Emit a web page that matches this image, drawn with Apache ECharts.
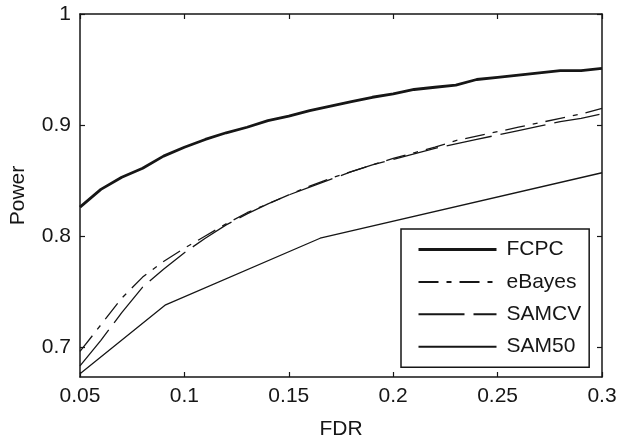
<!DOCTYPE html>
<html>
<head>
<meta charset="utf-8">
<script src="https://cdn.jsdelivr.net/npm/echarts@6/dist/echarts.min.js"></script>
<style>
  html, body { margin: 0; padding: 0; background: #fff; }
  #chart { width: 624px; height: 445px; }
</style>
</head>
<body>
<div id="chart"></div>
<script>
// FDR grid shared by the three smooth curves
const fdr = [0.05, 0.06, 0.07, 0.08, 0.09, 0.1, 0.11, 0.12, 0.13, 0.14, 0.15, 0.16, 0.17,
  0.18, 0.19, 0.2, 0.21, 0.22, 0.23, 0.24, 0.25, 0.26, 0.27, 0.28, 0.29, 0.3]
const fcpc = [0.826, 0.842, 0.853, 0.861, 0.872, 0.880, 0.887, 0.893, 0.898, 0.904, 0.908, 0.913, 0.917,
  0.921, 0.925, 0.928, 0.932, 0.934, 0.936, 0.941, 0.943, 0.945, 0.947, 0.949, 0.949, 0.951]
const ebayes = [0.696, 0.720, 0.744, 0.763, 0.777, 0.789, 0.800, 0.811, 0.821, 0.829, 0.837, 0.845, 0.852,
  0.858, 0.864, 0.870, 0.875, 0.880, 0.886, 0.890, 0.894, 0.898, 0.902, 0.906, 0.910, 0.915]
const samcv = [0.683, 0.706, 0.731, 0.754, 0.770, 0.785, 0.798, 0.810, 0.820, 0.829, 0.837, 0.844, 0.851,
  0.858, 0.864, 0.869, 0.874, 0.879, 0.883, 0.887, 0.891, 0.895, 0.899, 0.903, 0.906, 0.910]
// SAM50 has only a few points
const sam50Fdr = [0.05, 0.091, 0.165, 0.3]
const sam50 = [0.676, 0.738, 0.798, 0.857]

const xTicks = [0.05, 0.1, 0.15, 0.2, 0.25, 0.3]
const yTicks = [0.7, 0.8, 0.9, 1]

const pairs = (xs, ys) => xs.map((x, i) => [x, ys[i]])

const ink = '#161616'
const font = 'Liberation Sans, Arial, Helvetica, sans-serif'

const chart = echarts.init(document.getElementById('chart'))

const baseX = {
  type: 'value',
  min: 0.05,
  max: 0.3,
  axisLine: { show: true, onZero: false, lineStyle: { color: ink, width: 1.5 } },
  axisTick: { show: true, inside: true, length: 5, customValues: xTicks, lineStyle: { color: ink, width: 1.2 } },
  splitLine: { show: false }
}
const baseY = {
  type: 'value',
  min: 0.673,
  max: 1,
  axisLine: { show: true, onZero: false, lineStyle: { color: ink, width: 1.5 } },
  axisTick: { show: true, inside: true, length: 5, customValues: yTicks, lineStyle: { color: ink, width: 1.2 } },
  splitLine: { show: false }
}

chart.setOption({
  animation: false,
  backgroundColor: '#fff',
  grid: { left: 76, right: 22, top: 14, bottom: 67 },
  xAxis: [
    {
      ...baseX,
      position: 'bottom',
      name: 'FDR',
      nameLocation: 'middle',
      nameGap: 42,
      nameTextStyle: { color: ink, fontSize: 21, fontFamily: font },
      axisLabel: {
        show: true, margin: 9, color: ink, fontSize: 21, fontFamily: font,
        customValues: xTicks,
        formatter: (v) => String(+v.toFixed(2))
      }
    },
    { ...baseX, position: 'top', axisLabel: { show: false } }
  ],
  yAxis: [
    {
      ...baseY,
      position: 'left',
      name: 'Power',
      nameLocation: 'middle',
      nameGap: 51,
      nameTextStyle: { color: ink, fontSize: 21, fontFamily: font },
      axisLabel: {
        show: true, margin: 9, color: ink, fontSize: 21, fontFamily: font,
        customValues: yTicks,
        formatter: (v) => String(+v.toFixed(1))
      }
    },
    { ...baseY, position: 'right', axisLabel: { show: false } }
  ],
  legend: {
    orient: 'vertical',
    left: 401,
    top: 229,
    padding: [10, 8, 10, 16],
    itemWidth: 78,
    itemHeight: 14,
    itemGap: 11.4,
    borderColor: ink,
    borderWidth: 1.5,
    backgroundColor: '#fff',
    itemStyle: { opacity: 0 },
    textStyle: { color: ink, fontSize: 21, fontFamily: font, padding: [0, 0, 0, 5] },
    data: [
      { name: 'FCPC', lineStyle: { width: 3 } },
      'eBayes',
      'SAMCV',
      'SAM50'
    ]
  },
  series: [
    {
      name: 'FCPC', type: 'line', symbol: 'none',
      data: pairs(fdr, fcpc),
      lineStyle: { color: ink, width: 2.8 },
      itemStyle: { color: ink }
    },
    {
      name: 'eBayes', type: 'line', symbol: 'none',
      data: pairs(fdr, ebayes),
      lineStyle: { color: ink, width: 1.3, type: [20, 8, 5, 8] },
      itemStyle: { color: ink }
    },
    {
      name: 'SAMCV', type: 'line', symbol: 'none',
      data: pairs(fdr, samcv),
      lineStyle: { color: ink, width: 1.3, type: [46, 9] },
      itemStyle: { color: ink }
    },
    {
      name: 'SAM50', type: 'line', symbol: 'none',
      data: pairs(sam50Fdr, sam50),
      lineStyle: { color: ink, width: 1.3 },
      itemStyle: { color: ink }
    }
  ]
})
</script>
</body>
</html>
